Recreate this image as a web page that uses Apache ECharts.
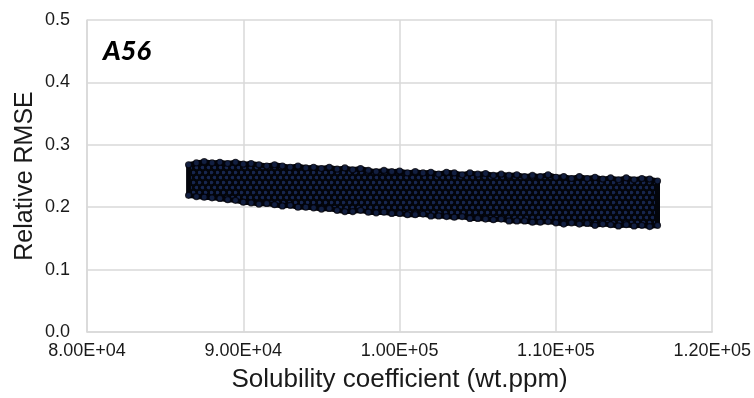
<!DOCTYPE html>
<html>
<head>
<meta charset="utf-8">
<script src="https://cdn.jsdelivr.net/npm/echarts@6/dist/echarts.min.js"></script>
<style>html,body{margin:0;padding:0;background:#fff;}#c{width:754px;height:398px;}</style>
</head>
<body>
<div id="c"></div>
<script>
// Solubility coefficient sample positions (wt.ppm)
const xs = [86500,87000,87500,88000,88500,89000,89500,90000,90500,91000,91500,92000,92500,93000,93500,94000,94500,95000,95500,96000,96500,97000,97500,98000,98500,99000,99500,100000,100500,101000,101500,102000,102500,103000,103500,104000,104500,105000,105500,106000,106500,107000,107500,108000,108500,109000,109500,110000,110500,111000,111500,112000,112500,113000,113500,114000,114500,115000,115500,116000,116500];
// Upper edge of the scattered band (Relative RMSE)
const upper = [0.268,0.271,0.273,0.271,0.272,0.270,0.272,0.269,0.270,0.268,0.266,0.268,0.266,0.264,0.266,0.263,0.264,0.262,0.264,0.261,0.263,0.260,0.262,0.259,0.257,0.259,0.257,0.258,0.255,0.257,0.255,0.256,0.253,0.256,0.255,0.252,0.255,0.253,0.254,0.251,0.253,0.251,0.252,0.249,0.251,0.249,0.252,0.248,0.249,0.246,0.249,0.246,0.248,0.245,0.247,0.244,0.247,0.244,0.246,0.245,0.242];
// Lower edge of the scattered band (Relative RMSE)
const lower = [0.219,0.217,0.216,0.215,0.214,0.212,0.211,0.208,0.207,0.205,0.206,0.204,0.202,0.203,0.200,0.200,0.199,0.197,0.198,0.195,0.193,0.193,0.195,0.192,0.191,0.192,0.190,0.190,0.188,0.188,0.189,0.186,0.186,0.185,0.184,0.185,0.182,0.182,0.181,0.180,0.181,0.178,0.178,0.178,0.176,0.176,0.177,0.175,0.173,0.175,0.173,0.174,0.171,0.173,0.172,0.170,0.172,0.170,0.171,0.169,0.171];
// Axis ticks
const xTicks = [80000, 90000, 100000, 110000, 120000];
const yTicks = [0.0, 0.1, 0.2, 0.3, 0.4, 0.5];
const panelLabel = 'A56';
const xName = 'Solubility coefficient (wt.ppm)';
const yName = 'Relative RMSE';

// dot texture for the dense point cloud
function makePattern() {
  const c = document.createElement('canvas');
  c.width = 6; c.height = 10;
  const g = c.getContext('2d');
  g.fillStyle = '#03050b'; g.fillRect(0, 0, 6, 10);
  g.fillStyle = '#17264f';
  g.beginPath(); g.arc(1.5, 2.5, 1.8, 0, Math.PI * 2); g.fill();
  g.beginPath(); g.arc(4.5, 7.5, 1.8, 0, Math.PI * 2); g.fill();
  return c;
}
const pat = makePattern();

function sci(v) {
  const e = Math.floor(Math.log10(v));
  const m = v / Math.pow(10, e);
  return m.toFixed(2) + 'E+' + (e < 10 ? '0' + e : e);
}

const chart = echarts.init(document.getElementById('c'), null, {renderer: 'canvas'});
const font = '"Liberation Sans", Arial, sans-serif';
chart.setOption({
  animation: false,
  backgroundColor: '#fff',
  grid: {left: 87, right: 32, top: 20, bottom: 65, containLabel: false},
  xAxis: {
    type: 'value', min: xTicks[0], max: xTicks[xTicks.length - 1], interval: 10000,
    name: xName, nameLocation: 'middle', nameGap: 35, nameMoveOverlap: false,
    nameTextStyle: {fontFamily: font, fontSize: 26, color: '#1a1a1a'},
    axisLine: {show: true, lineStyle: {color: '#d9d9d9', width: 1.5}},
    axisTick: {show: false},
    axisLabel: {fontFamily: font, fontSize: 18, color: '#1a1a1a', margin: 10, formatter: v => sci(v)},
    splitLine: {show: true, lineStyle: {color: '#d9d9d9', width: 1.5}}
  },
  yAxis: {
    type: 'value', min: yTicks[0], max: yTicks[yTicks.length - 1], interval: 0.1,
    name: yName, nameLocation: 'middle', nameGap: 49, nameMoveOverlap: false,
    nameTextStyle: {fontFamily: font, fontSize: 25, color: '#1a1a1a'},
    axisLine: {show: true, lineStyle: {color: '#d9d9d9', width: 1.5}},
    axisTick: {show: false},
    axisLabel: {fontFamily: font, fontSize: 18, color: '#1a1a1a', margin: 17, formatter: v => v.toFixed(1)},
    splitLine: {show: true, lineStyle: {color: '#d9d9d9', width: 1.5}}
  },
  graphic: [{
    type: 'text', left: 103, top: 38, z: 10,
    style: {text: panelLabel, font: 'italic 900 27px Lato, "Liberation Sans", sans-serif', fill: '#000'}
  }],
  series: [
    {
      type: 'custom',
      data: [[xs[0], upper[0]]],
      clip: true,
      renderItem: function (params, api) {
        const pts = [];
        for (let i = 0; i < xs.length; i++) pts.push(api.coord([xs[i], upper[i]]));
        for (let i = xs.length - 1; i >= 0; i--) pts.push(api.coord([xs[i], lower[i]]));
        return {type: 'polygon', shape: {points: pts},
          style: {fill: {image: pat, repeat: 'repeat'}, stroke: '#03050b', lineWidth: 5, lineJoin: 'round'}};
      }
    },
    {
      type: 'scatter', symbolSize: 6,
      itemStyle: {color: '#17264f', borderColor: '#02030a', borderWidth: 1.2},
      data: xs.map((x, i) => [x, upper[i]]).concat(xs.map((x, i) => [x, lower[i]]))
    }
  ]
});
</script>
</body>
</html>
